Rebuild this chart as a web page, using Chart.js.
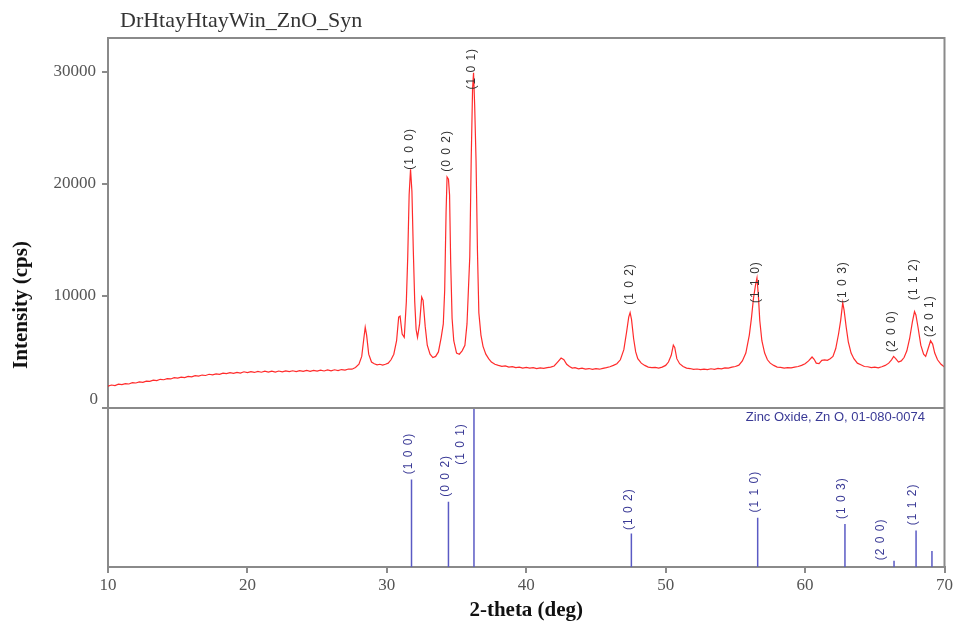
<!DOCTYPE html>
<html>
<head>
<meta charset="utf-8">
<script src="https://cdn.jsdelivr.net/npm/chart.js@4.4.1/dist/chart.umd.min.js"></script>
<style>
  html, body { margin: 0; padding: 0; background: #fff; }
  #wrap { width: 955px; height: 628px; position: relative; }
</style>
</head>
<body>
<div id="wrap"><canvas id="xrdChart"></canvas></div>
<script>
// measured pattern, 2-theta (deg) and intensity (cps)
const twoTheta = [
  10.0, 10.25, 10.5, 10.75, 11.0, 11.25, 11.5, 11.75, 12.0, 12.25, 12.5, 12.75,
  13.0, 13.25, 13.5, 13.75, 14.0, 14.25, 14.5, 14.75, 15.0, 15.25, 15.5, 15.75,
  16.0, 16.25, 16.5, 16.75, 17.0, 17.25, 17.5, 17.75, 18.0, 18.25, 18.5, 18.75,
  19.0, 19.25, 19.5, 19.75, 20.0, 20.25, 20.5, 20.75, 21.0, 21.25, 21.5, 21.75,
  22.0, 22.25, 22.5, 22.75, 23.0, 23.25, 23.5, 23.75, 24.0, 24.25, 24.5, 24.75,
  25.0, 25.25, 25.5, 25.75, 26.0, 26.25, 26.5, 26.75, 27.0, 27.25, 27.5, 27.75,
  28.0, 28.2, 28.35, 28.45, 28.55, 28.7, 28.9, 29.1, 29.3, 29.5, 29.7, 29.9,
  30.1, 30.3, 30.5, 30.7, 30.85, 30.95, 31.1, 31.25, 31.4, 31.5, 31.6, 31.7,
  31.8, 31.9, 32.0, 32.1, 32.2, 32.35, 32.5, 32.6, 32.75, 32.9, 33.1, 33.3,
  33.5, 33.7, 33.9, 34.05, 34.15, 34.25, 34.32, 34.42, 34.5, 34.58, 34.68, 34.8,
  35.0, 35.2, 35.4, 35.6, 35.75, 35.85, 35.95, 36.05, 36.15, 36.22, 36.3, 36.4,
  36.5, 36.6, 36.75, 36.9, 37.1, 37.3, 37.5, 37.75, 38.0, 38.25, 38.5, 38.75,
  39.0, 39.25, 39.5, 39.75, 40.0, 40.25, 40.5, 40.75, 41.0, 41.25, 41.5, 41.75,
  42.0, 42.25, 42.5, 42.7, 42.9, 43.1, 43.3, 43.5, 43.75, 44.0, 44.25, 44.5,
  44.75, 45.0, 45.25, 45.5, 45.75, 46.0, 46.25, 46.5, 46.75, 47.0, 47.2, 47.35,
  47.45, 47.55, 47.7, 47.85, 48.0, 48.25, 48.5, 48.75, 49.0, 49.25, 49.5, 49.75,
  50.0, 50.2, 50.4, 50.55, 50.65, 50.8, 51.0, 51.25, 51.5, 51.75, 52.0, 52.25,
  52.5, 52.75, 53.0, 53.25, 53.5, 53.75, 54.0, 54.25, 54.5, 54.75, 55.0, 55.25,
  55.5, 55.75, 56.0, 56.15, 56.3, 56.45, 56.55, 56.65, 56.75, 56.9, 57.1, 57.3,
  57.5, 57.75, 58.0, 58.25, 58.5, 58.75, 59.0, 59.25, 59.5, 59.75, 60.0, 60.25,
  60.5, 60.65, 60.8, 61.0, 61.2, 61.4, 61.6, 61.8, 62.0, 62.2, 62.4, 62.55,
  62.7, 62.8, 62.95, 63.1, 63.3, 63.5, 63.75, 64.0, 64.25, 64.5, 64.75, 65.0,
  65.25, 65.5, 65.75, 66.0, 66.2, 66.35, 66.5, 66.7, 66.9, 67.1, 67.3, 67.5,
  67.7, 67.85, 67.95, 68.1, 68.3, 68.5, 68.65, 68.8, 69.0, 69.15, 69.3, 69.5,
  69.75, 70.0
];
const intensity = [
  1950, 2050, 2000, 2120, 2080, 2180, 2140, 2260, 2230, 2330, 2290, 2400,
  2370, 2480, 2440, 2560, 2520, 2620, 2590, 2700, 2660, 2760, 2710, 2820,
  2780, 2890, 2850, 2940, 2900, 3010, 2960, 3050, 3000, 3110, 3060, 3150,
  3090, 3180, 3120, 3230, 3150, 3240, 3170, 3260, 3190, 3280, 3200, 3290,
  3210, 3300, 3230, 3310, 3240, 3320, 3250, 3330, 3260, 3350, 3270, 3360,
  3290, 3380, 3300, 3390, 3320, 3410, 3340, 3430, 3380, 3480, 3460, 3620,
  3900, 4600, 6200, 7200, 6500, 4800, 4100, 3950, 3850, 3900, 3820, 3900,
  4000, 4300, 4800, 6000, 8100, 8200, 6600, 6300, 9500, 13500, 19000, 21300,
  19300, 14000, 9500, 7000, 6300, 7500, 9900, 9600, 7300, 5600, 4800, 4500,
  4600, 5000, 6300, 7500, 10500, 17500, 20600, 20400, 19000, 13000, 8000, 6000,
  4900, 4800, 5100, 5600, 7500, 10500, 13500, 22000, 28500, 29900, 27000, 22000,
  14000, 8500, 6500, 5500, 4800, 4400, 4100, 3900, 3800, 3720, 3760, 3650,
  3690, 3600, 3640, 3560, 3620, 3550, 3600, 3520, 3580, 3540, 3600, 3640,
  3750, 4100, 4450, 4300, 3900, 3700, 3560, 3600, 3500, 3560, 3470, 3520,
  3450, 3510, 3460, 3540, 3600, 3680, 3800, 3950, 4300, 5200, 6800, 8100,
  8500, 7900, 6200, 5000, 4400, 4000, 3800, 3650, 3600, 3620, 3560, 3650,
  3800, 4100, 4700, 5600, 5400, 4400, 3950, 3700, 3560, 3520, 3450, 3480,
  3420, 3470, 3420, 3500, 3450, 3530, 3490, 3580, 3560, 3640, 3700, 3820,
  4200, 4900, 6500, 8000, 9800, 11000, 11600, 10000, 7800, 6000, 4900, 4300,
  4000, 3800, 3650, 3620, 3560, 3600, 3580, 3650, 3700, 3800, 3950, 4200,
  4550, 4350, 4000, 3950, 4250, 4300, 4250, 4400, 4600, 5300, 6600, 7800,
  9400, 8700, 7200, 5900, 4900, 4400, 4000, 3850, 3700, 3680, 3600, 3640,
  3580, 3680, 3800, 4000, 4300, 4600, 4400, 4100, 4200, 4500, 5100, 6200,
  7700, 8600, 8300, 7200, 5600, 4800, 4600, 5200, 6000, 5700, 4900, 4300,
  3900, 3650
];

// reference card 01-080-0074 (Zinc Oxide)
const hkl = ['(1 0 0)', '(0 0 2)', '(1 0 1)', '(1 0 2)', '(1 1 0)', '(1 0 3)', '(2 0 0)', '(1 1 2)', '(2 0 1)'];
const refTheta = [31.77, 34.42, 36.25, 47.54, 56.60, 62.86, 66.38, 67.96, 69.10];
const refIntensity = [55, 41, 100, 21, 31, 27, 4, 23, 10];
// where the hkl labels sit (cps in the upper panel, % in the lower one)
const peakLabelAt = [21250, 21070, 28400, 9200, 9375, 9375, 5000, 9640, 6340];
const refLabelAt = [57, 43, 63, 22, 33, 29, 3, 25, null];

const yTicks = [0, 10000, 20000, 30000];

const sticks = [];
refTheta.forEach((t, i) => {
  sticks.push({ x: t, y: 0 }, { x: t, y: refIntensity[i] }, { x: t, y: null });
});

const grey = '#8a8a8a';
const serif = '"Liberation Serif", "Times New Roman", serif';
const sans = '"Liberation Sans", Arial, sans-serif';

const decorations = {
  id: 'decorations',
  afterDraw(chart) {
    const ctx = chart.ctx;
    const area = chart.chartArea;
    const x = chart.scales.x;
    const y = chart.scales.y;
    const y2 = chart.scales.y2;
    ctx.save();

    // frame + divider between the two panels
    ctx.strokeStyle = grey;
    ctx.lineWidth = 2;
    ctx.beginPath();
    ctx.moveTo(area.left, area.top);
    ctx.lineTo(area.right, area.top);
    ctx.lineTo(area.right, area.bottom);
    ctx.moveTo(area.left, y.bottom);
    ctx.lineTo(area.right, y.bottom);
    ctx.stroke();

    // the zero label sits a bit above its tick
    ctx.fillStyle = '#555';
    ctx.font = '17px ' + serif;
    ctx.textAlign = 'right';
    ctx.textBaseline = 'middle';
    ctx.fillText('0', area.left - 10, y.getPixelForValue(0) - 8);

    // title
    ctx.fillStyle = '#333';
    ctx.font = '22px ' + serif;
    ctx.textAlign = 'left';
    ctx.textBaseline = 'alphabetic';
    ctx.fillText('DrHtayHtayWin_ZnO_Syn', 120, 27);

    // axis titles
    ctx.fillStyle = '#111';
    ctx.font = 'bold 21px ' + serif;
    ctx.textAlign = 'center';
    ctx.fillText('2-theta (deg)', (area.left + area.right) / 2, 616);
    ctx.save();
    ctx.translate(27, 305);
    ctx.rotate(-Math.PI / 2);
    ctx.fillText('Intensity (cps)', 0, 0);
    ctx.restore();

    // hkl labels, written upwards
    ctx.letterSpacing = '1px';
    ctx.font = '12px ' + sans;
    ctx.textAlign = 'left';
    ctx.textBaseline = 'middle';
    hkl.forEach((h, i) => {
      const px = x.getPixelForValue(refTheta[i]);
      ctx.fillStyle = '#333';
      ctx.save();
      ctx.translate(px - 2, y.getPixelForValue(peakLabelAt[i]));
      ctx.rotate(-Math.PI / 2);
      ctx.fillText(h, 0, 0);
      ctx.restore();
      if (refLabelAt[i] === null) return;
      const shift = refLabelAt[i] < refIntensity[i] ? -13 : -3;
      ctx.fillStyle = '#3a3a96';
      ctx.save();
      ctx.translate(px + shift, y2.getPixelForValue(refLabelAt[i]) - 2);
      ctx.rotate(-Math.PI / 2);
      ctx.fillText(h, 0, 0);
      ctx.restore();
    });
    ctx.letterSpacing = '0px';

    ctx.fillStyle = '#3a3a96';
    ctx.font = '13px ' + sans;
    ctx.textAlign = 'right';
    ctx.fillText('Zinc Oxide, Zn O, 01-080-0074', 925, y.bottom + 9);

    ctx.restore();
  }
};

const ctx = document.getElementById('xrdChart').getContext('2d');
const chart = new Chart(ctx, {
  type: 'line',
  data: {
    datasets: [
      {
        label: 'DrHtayHtayWin_ZnO_Syn',
        data: twoTheta.map((t, i) => ({ x: t, y: intensity[i] })),
        yAxisID: 'y',
        borderColor: 'rgba(255, 20, 20, 0.9)',
        borderWidth: 1.2,
        pointRadius: 0,
        tension: 0
      },
      {
        label: 'Zinc Oxide, Zn O, 01-080-0074',
        data: sticks,
        yAxisID: 'y2',
        borderColor: '#5a5ac4',
        borderWidth: 1.5,
        pointRadius: 0,
        spanGaps: false
      }
    ]
  },
  options: {
    responsive: true,
    maintainAspectRatio: false,
    animation: false,
    layout: { padding: { top: 38, right: 8, left: 0, bottom: 0 } },
    plugins: {
      legend: { display: false },
      tooltip: { enabled: false }
    },
    scales: {
      x: {
        type: 'linear',
        min: 10,
        max: 70,
        ticks: {
          stepSize: 10,
          color: '#555',
          font: { family: serif, size: 17 },
          padding: 2,
          maxRotation: 0
        },
        grid: { drawOnChartArea: false, tickLength: 6, color: grey, lineWidth: 2 },
        border: { color: grey, width: 2 },
        afterFit(scale) { scale.height = 61; }
      },
      // lower panel is listed first so the stack puts it under the pattern
      y2: {
        type: 'linear',
        position: 'left',
        stack: 'xrd',
        stackWeight: 159,
        min: 0,
        max: 100,
        ticks: { display: false },
        grid: { drawOnChartArea: false, drawTicks: false },
        border: { color: grey, width: 2 },
        afterFit(scale) { scale.width = 108; }
      },
      y: {
        type: 'linear',
        position: 'left',
        stack: 'xrd',
        stackWeight: 370,
        min: 0,
        max: 33000,
        afterBuildTicks(scale) { scale.ticks = yTicks.map(v => ({ value: v })); },
        ticks: {
          color: '#555',
          font: { family: serif, size: 17 },
          padding: 6,
          callback: v => (v === 0 ? '' : String(v))
        },
        grid: { drawOnChartArea: false, tickLength: 6, color: grey, lineWidth: 2 },
        border: { color: grey, width: 2 },
        afterFit(scale) { scale.width = 108; }
      }
    }
  },
  plugins: [decorations]
});
</script>
</body>
</html>
